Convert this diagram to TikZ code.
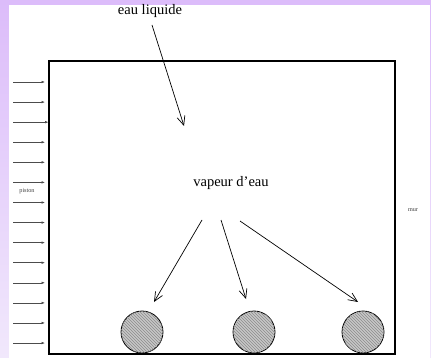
\documentclass[tikz,border=0pt]{standalone}
\usepackage{fontspec}
\setmainfont{Liberation Serif}
\usetikzlibrary{arrows.meta,patterns}
\definecolor{lavtop}{RGB}{220,188,250}
\definecolor{lavbot}{RGB}{241,232,252}
\begin{document}
\begin{tikzpicture}[x=1pt,y=-1pt,
  pusharrow/.style={draw=black!70,line width=0.6pt,-{Latex[length=3.5pt,width=2.6pt]}},
  flowarrow/.style={draw=black,line width=0.7pt,-{Straight Barb[length=9pt,width=8pt]}},
  drop/.style={circle,draw=black,line width=0.8pt,minimum size=42pt,inner sep=0pt,
    fill=black!22,postaction={pattern=north west lines,pattern color=black!45}},
  bigtxt/.style={inner sep=0pt,font=\fontsize{14.5}{16}\selectfont},
  smalltxt/.style={inner sep=0pt,font=\fontsize{6.2}{7}\selectfont,text=black!75}]
\useasboundingbox (0,0) rectangle (431,358);
\shade[top color=lavtop,bottom color=lavbot] (0,0) rectangle (431,358);
\fill[white] (9,5) rectangle (430,358);
% container
\draw[line width=1.4pt] (49,61) rectangle (395,354);
% texts
\node[bigtxt] (liq) at (150,11) {eau liquide};
\node[bigtxt] (vap) at (231,183) {vapeur d’eau};
\node[smalltxt] (pis) at (27,191) {piston};
\node[smalltxt] (mur) at (413,210) {mur};
% coordinates
\coordinate (l0) at (152,25);
\coordinate (l1) at (184,126);
\coordinate (v1s) at (202,220);
\coordinate (v2s) at (221,220);
\coordinate (v3s) at (240,221);
\coordinate (v1e) at (154,302);
\coordinate (v2e) at (246,299);
\coordinate (v3e) at (358,302);
\draw[flowarrow] (l0) -- (l1);
\draw[flowarrow] (v1s) -- (v1e);
\draw[flowarrow] (v2s) -- (v2e);
\draw[flowarrow] (v3s) -- (v3e);
% droplets
\node[drop] (d1) at (142,332) {};
\node[drop] (d2) at (254,332) {};
\node[drop] (d3) at (363,332) {};
% piston arrows
\foreach \i/\e in {0/45,1/45,2/48.5,3/45,4/45,5/45,6/45,7/45,8/45,9/45,10/45,11/45,12/45,13/45}{
  \coordinate (ps\i) at (13,{82+20.08*\i});
  \coordinate (pe\i) at (\e,{82+20.08*\i});
  \draw[pusharrow] (ps\i) -- (pe\i);
}
\end{tikzpicture}
\end{document}
